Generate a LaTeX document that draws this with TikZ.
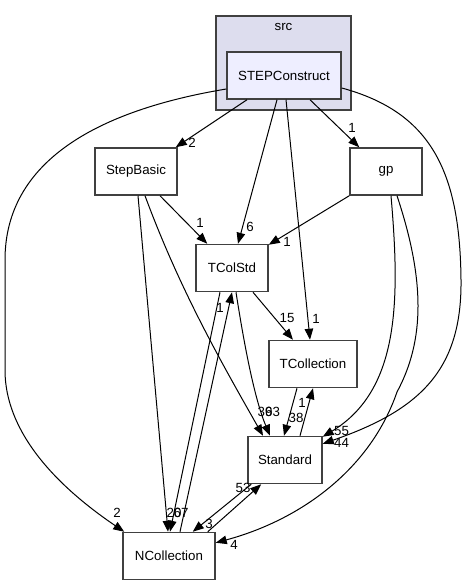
\documentclass[tikz,border=0pt]{standalone}
\usepackage{fontspec}
\setmainfont{Liberation Sans}
\usepackage{xcolor}
\usepackage{tikz}
\usetikzlibrary{arrows.meta}
\definecolor{boxgray}{HTML}{404040}
\definecolor{clusterfill}{HTML}{DDDDEE}
\definecolor{curfill}{HTML}{EEEEFF}

\begin{document}
\begin{tikzpicture}[x=1pt,y=-1pt,
    dirbox/.style={rectangle,draw=boxgray,line width=1.5pt,fill=white,minimum height=47pt,inner sep=0pt,font=\fontsize{13.3}{16}\selectfont},
    dep/.style={line width=1pt,-{Triangle[length=11pt,width=8.5pt]}},
    num/.style={inner sep=0pt,font=\fontsize{13.3}{16}\selectfont}]
    \useasboundingbox (0,0) rectangle (466,585);

    \draw (283.5,63) node (src) [dirbox,fill=clusterfill,minimum width=135pt,minimum height=94pt] {};
    \draw (283.5,27) node (srcname) [num] {src};
    \draw (284,75.5) node (stepc) [dirbox,fill=curfill,minimum width=114pt] {STEPConstruct};
    \draw (136,171.5) node (stepbasic) [dirbox,minimum width=82pt] {StepBasic};
    \draw (386,171.5) node (gp) [dirbox,minimum width=72pt] {gp};
    \draw (232,268) node (tcolstd) [dirbox,minimum width=72pt] {TColStd};
    \draw (313,364) node (tcollection) [dirbox,minimum width=88pt] {TCollection};
    \draw (285,460) node (standard) [dirbox,minimum width=74pt] {Standard};
    \draw (169,556) node (ncollection) [dirbox,minimum width=92pt] {NCollection};

    \draw[dep] ([xshift=-37pt]stepc.south) -- ([xshift=-2pt]stepbasic.north east);
    \draw[dep] ([xshift=-7pt]stepc.south) -- ([xshift=6pt]tcolstd.north);
    \draw[dep] ([xshift=2pt]stepc.south) -- ([xshift=-3pt]tcollection.north);
    \draw[dep] ([xshift=26pt]stepc.south) -- ([xshift=10pt]gp.north west);
    \draw[dep] ([yshift=-13.5pt]stepc.west) .. controls (100,110) and (5,160) .. (5,260)
        -- (5,370) .. controls (5,440) and (70,495) .. ([xshift=2pt]ncollection.north west);
    \draw[dep] ([yshift=-12.5pt]stepc.east) .. controls (430,112) and (460,170) .. (461,280)
        .. controls (462,370) and (420,410) .. ([yshift=-8pt]standard.north east);
    \draw[dep] ([xshift=5pt]gp.south) .. controls (400,300) and (400,390) .. ([yshift=-1pt]standard.north east);
    \draw[dep] ([xshift=11pt]gp.south) .. controls (425,280) and (425,340) .. (397,392)
        .. controls (370,470) and (300,520) .. ([yshift=-11pt]ncollection.north east);
    \draw[dep] (gp.south west) -- ([yshift=-1pt]tcolstd.north east);
    \draw[dep] ([xshift=24pt]stepbasic.south) -- ([xshift=12pt]tcolstd.north west);
    \draw[dep] ([xshift=2pt]stepbasic.south) -- ([xshift=-1pt]ncollection.north);
    \draw[dep] ([xshift=9pt]stepbasic.south) .. controls (180,290) and (220,360) .. ([xshift=-22pt]standard.north);
    \draw[dep] ([xshift=21pt]tcolstd.south) -- ([xshift=-20pt]tcollection.north);
    \draw[dep] ([xshift=4pt]tcolstd.south) .. controls (245,350) and (255,400) .. ([xshift=-15pt]standard.north);
    \draw[dep] ([xshift=-12pt]tcolstd.south) -- ([xshift=1pt]ncollection.north);
    \draw[dep] ([xshift=11pt]ncollection.north) -- (tcolstd.south);
    \draw[dep] ([xshift=-16pt]tcollection.south) -- ([xshift=-1pt]standard.north);
    \draw[dep] ([xshift=15pt]standard.north) -- (tcollection.south);
    \draw[dep] ([xshift=4pt]standard.south west) -- ([xshift=-23pt]ncollection.north east);
    \draw[dep] ([xshift=-8pt]ncollection.north east) -- ([xshift=14pt]standard.south west);

    \draw (192,143) node (nstepbasic) [num] {2};
    \draw (250,227) node (ntcolstd) [num] {6};
    \draw (316,319) node (ntcollection) [num] {1};
    \draw (352,128) node (ngp) [num] {1};
    \draw (117,513) node (nncollection) [num] {2};
    \draw (341.5,443) node (nstandard) [num] {44};
    \draw (341.5,431) node (ngpstandard) [num] {55};
    \draw (234,545) node (ngpncoll) [num] {4};
    \draw (287,242) node (ngptcolstd) [num] {1};
    \draw (200,223) node (nbasictcolstd) [num] {1};
    \draw (174,513) node (nbasicncoll) [num] {20};
    \draw (265,412) node (nbasicstandard) [num] {39};
    \draw (287,318) node (ntcolstdtcoll) [num] {15};
    \draw (272.5,412) node (ntcolstdstandard) [num] {63};
    \draw (181,513) node (ntcolstdncoll) [num] {67};
    \draw (220,308) node (nncolltcolstd) [num] {1};
    \draw (296,418) node (ntcollstandard) [num] {38};
    \draw (302,403) node (nstandardtcoll) [num] {1};
    \draw (209,524) node (nstandardncoll) [num] {3};
    \draw (243,488) node (nncollstandard) [num] {53};
\end{tikzpicture}
\end{document}
